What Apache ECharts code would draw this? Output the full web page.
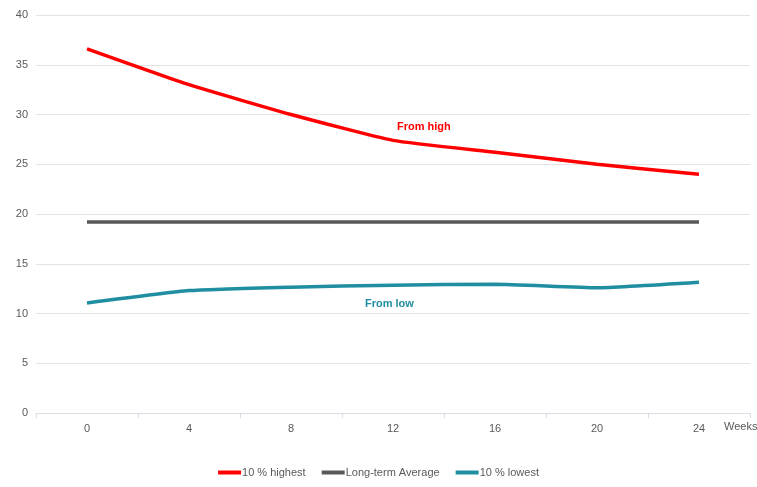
<!DOCTYPE html>
<html>
<head>
<meta charset="utf-8">
<script src="https://cdn.jsdelivr.net/npm/echarts@6/dist/echarts.min.js"></script>
<style>
  html, body { margin: 0; padding: 0; background: #fff; }
  #chart { width: 757px; height: 487px; }
</style>
</head>
<body>
<div id="chart"></div>
<script>
// Weeks since start
const weeks = ['0', '4', '8', '12', '16', '20', '24'];
// Average level of the group that started highest
const highest = [36.6, 33.0, 30.0, 27.4, 26.2, 25.0, 24.0];
// Long-term average level
const average = [19.2, 19.2, 19.2, 19.2, 19.2, 19.2, 19.2];
// Average level of the group that started lowest
const lowest = [11.05, 12.3, 12.65, 12.85, 12.95, 12.6, 13.15];

const FONT = '"Liberation Sans", "Open Sans", sans-serif';
const TEXT = '#595959';

const chart = echarts.init(document.getElementById('chart'));
chart.setOption({
  animation: false,
  textStyle: { fontFamily: FONT },
  grid: { left: 36, right: 7, top: 15, bottom: 74, outerBoundsMode: 'none', containLabel: false },
  legend: {
    bottom: 4,
    left: 'center',
    itemWidth: 23,
    itemHeight: 4,
    itemGap: 16,
    icon: 'rect',
    textStyle: { color: TEXT, fontSize: 11, fontFamily: FONT, padding: [0, 0, 0, -4] },
    data: ['10 % highest', 'Long-term Average', '10 % lowest']
  },
  xAxis: {
    type: 'category',
    data: weeks,
    boundaryGap: true,
    name: 'Weeks',
    nameLocation: 'end',
    nameGap: -26,
    nameTextStyle: { color: TEXT, fontSize: 11, align: 'left', verticalAlign: 'top', padding: [8, 0, 0, 0] },
    axisLine: { lineStyle: { color: '#d9dee6', width: 1 } },
    axisTick: { show: true, length: 5, lineStyle: { color: '#d9dee6' } },
    axisLabel: { color: TEXT, fontSize: 11, margin: 10 }
  },
  yAxis: {
    type: 'value',
    min: 0,
    max: 40,
    interval: 5,
    axisLine: { show: false },
    axisTick: { show: false },
    axisLabel: { color: TEXT, fontSize: 11, margin: 8 },
    splitLine: { lineStyle: { color: '#e3e3e3', width: 1 } }
  },
  graphic: [
    { type: 'text', left: 397, top: 121, style: { text: 'From high', fill: '#ff0000', font: 'bold 11px ' + FONT } },
    { type: 'text', left: 365, top: 298, style: { text: 'From low', fill: '#1f8ea0', font: 'bold 11px ' + FONT } }
  ],
  series: [
    {
      name: '10 % highest', type: 'line', data: highest, smooth: 0.15,
      symbol: 'none', lineStyle: { color: '#ff0000', width: 3.5 }, itemStyle: { color: '#ff0000' }
    },
    {
      name: 'Long-term Average', type: 'line', data: average,
      symbol: 'none', lineStyle: { color: '#595959', width: 3.5 }, itemStyle: { color: '#595959' }
    },
    {
      name: '10 % lowest', type: 'line', data: lowest, smooth: 0.15,
      symbol: 'none', lineStyle: { color: '#1f8ea0', width: 3.5 }, itemStyle: { color: '#1f8ea0' }
    }
  ]
});
</script>
</body>
</html>
